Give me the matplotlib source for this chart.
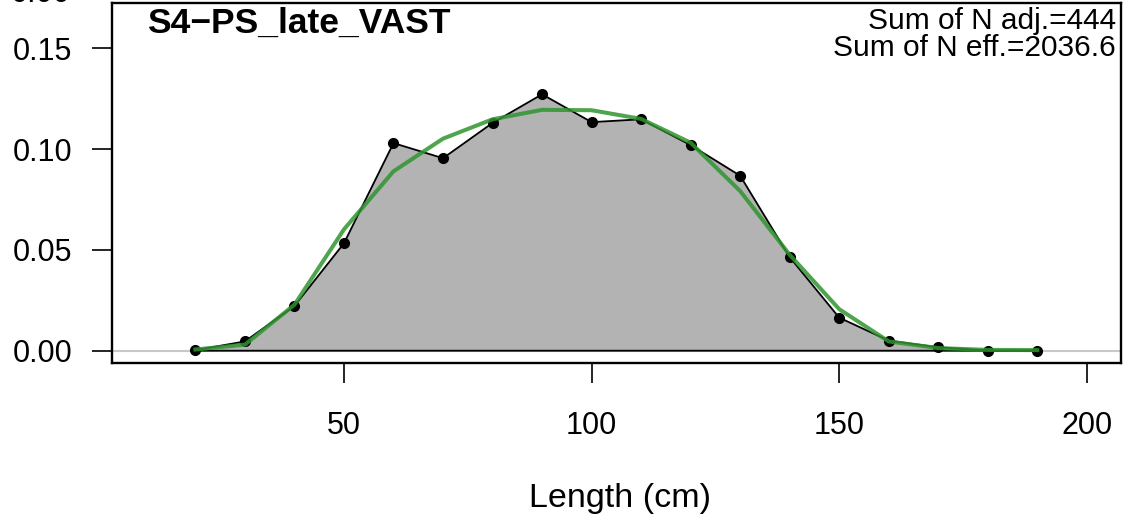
import matplotlib
matplotlib.use("Agg")
import matplotlib.pyplot as plt
import numpy as np

plt.rcParams['font.family'] = ['Liberation Sans', 'DejaVu Sans']

# length bins (cm) and observed / expected proportions
length_bins = [20, 30, 40, 50, 60, 70, 80, 90, 100, 110, 120, 130, 140, 150, 160, 170, 180, 190]
obs_prop = [0.0003, 0.0046, 0.0222, 0.0533, 0.1030, 0.0955, 0.1130, 0.1272, 0.1134, 0.1148,
            0.1020, 0.0868, 0.0464, 0.0164, 0.0050, 0.0017, 0.0001, 0.0001]
exp_prop = [0.0006, 0.0030, 0.0228, 0.0602, 0.0890, 0.1052, 0.1148, 0.1195, 0.1193, 0.1150,
            0.1032, 0.0792, 0.0476, 0.0206, 0.0046, 0.0013, 0.0004, 0.0003]

panel_label = "S4\u2212PS_late_VAST"
n_adj = 444
n_eff = 2036.6

x_ticks = [50, 100, 150, 200]
y_ticks = [0.0, 0.05, 0.10, 0.15]

W, H = 1123, 518
fig = plt.figure(figsize=(W / 100, H / 100), dpi=100)
ax = fig.add_axes([111.7 / W, 1 - 363.3 / H, (1121 - 111.7) / W, (363.3 - 3) / H])

ax.set_xlim(3.1, 206.9)
ax.set_ylim(-0.00625, 0.1725)

# zero reference line
ax.axhline(0, color='#c8c8c8', lw=1.5, zorder=1)

# observed composition as shaded polygon
xs = np.array(length_bins, dtype=float)
ys = np.array(obs_prop)
poly_x = np.concatenate([xs, xs[::-1]])
poly_y = np.concatenate([ys, np.zeros_like(ys)])
ax.fill(poly_x, poly_y, facecolor='#b3b3b3', edgecolor='black', lw=1.3, zorder=2)
ax.plot(xs, ys, 'o', color='black', ms=7, zorder=3)

# expected composition
ax.plot(xs, exp_prop, color='#2f952f', lw=2.9, alpha=0.85, zorder=4)

for s in ax.spines.values():
    s.set_linewidth(1.7)

ax.set_xticks(x_ticks)
ax.set_xticklabels([str(v) for v in x_ticks])
ax.set_yticks(y_ticks)
ax.set_yticklabels(["%.2f" % v for v in y_ticks])
ax.tick_params(axis='both', direction='out', length=14.5, width=1.2, labelsize=22)
ax.tick_params(axis='x', pad=20)
ax.tick_params(axis='y', pad=14)

# panel annotations
fig.text(147 / W, 1 - 33.3 / H, panel_label, fontsize=25.5, fontweight='bold',
         ha='left', va='baseline')
fig.text(1116 / W, 1 - 29.3 / H, "Sum of N adj.=%d" % n_adj, fontsize=21.5,
         ha='right', va='baseline')
fig.text(1116 / W, 1 - 56 / H, "Sum of N eff.=%s" % n_eff, fontsize=21.5,
         ha='right', va='baseline')

# axis label of the panel above, mostly outside the canvas
fig.text(71 / W, 1 - 1.7 / H, "0.00", fontsize=22, ha='right', va='baseline')

fig.text(619.7 / W, 1 - 507 / H, "Length (cm)", fontsize=24.5, ha='center', va='baseline')

fig.savefig("out.png", dpi=100)
